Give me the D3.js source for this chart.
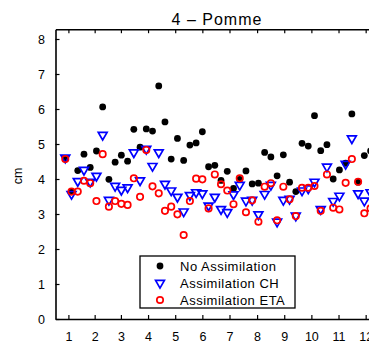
<!DOCTYPE html>
<html><head><meta charset="utf-8">
<script src="https://cdn.jsdelivr.net/npm/d3@7"></script>
<style>
html,body{margin:0;padding:0;background:#fff;}
svg{display:block;font-family:"Liberation Sans",Arial,Helvetica,sans-serif;}
</style></head>
<body>
<script>
// ---- data ----
const title = "4 \u2013 Pomme";
const yLabel = "cm";
const monthLabels = ["1","2","3","4","5","6","7","8","9","10","11","12"];
const monthMidDays = [15.5,45,74.5,105,135.5,166,196.5,227.5,258,288.5,319,349.5];
const yTicks = [0,1,2,3,4,5,6,7,8];
const seriesNames = ["No Assimilation","Assimilation CH","Assimilation ETA"];
const days = [12,19,26,33,40,47,54,61,68,75,82,89,96,103,110,117,124,131,138,145,152,159,166,173,180,187,194,201,208,215,222,229,236,243,250,257,264,271,278,285,292,299,306,313,320,327,334,341,348,355];
const noAssim = [4.57,3.64,4.24,4.71,4.33,4.80,6.06,3.99,4.48,4.68,4.51,5.42,4.91,5.43,5.37,6.66,5.63,4.57,5.16,4.53,4.97,5.03,5.35,4.35,4.39,3.96,4.22,3.73,3.99,4.23,3.86,3.88,4.76,4.63,4.09,4.69,3.91,3.64,5.02,4.94,5.81,4.81,4.98,4.00,4.26,4.45,5.86,3.91,4.67,4.80];
const assimCH = [4.61,3.57,3.94,4.26,3.92,4.09,5.26,3.40,3.80,3.69,3.76,4.76,3.96,4.86,4.37,4.76,3.86,3.67,3.49,3.07,3.54,3.62,3.59,3.24,3.49,3.14,3.05,3.56,3.83,3.38,3.40,2.99,3.57,3.83,2.78,3.40,3.43,2.95,3.67,3.73,3.92,3.14,4.35,3.37,3.52,4.43,5.16,3.59,3.38,3.62];
const assimETA = [4.57,3.64,3.64,3.95,3.88,3.37,4.71,3.21,3.37,3.29,3.26,4.02,3.49,4.83,3.79,3.59,3.09,3.21,2.99,2.40,3.37,4.01,3.99,3.16,4.13,3.85,3.67,3.28,4.02,3.05,3.39,2.78,3.78,3.88,2.82,3.78,3.42,2.94,3.75,3.75,3.80,3.09,4.13,3.18,3.13,3.89,4.57,3.92,3.02,3.16];

const W = 369, H = 344;
const svg = d3.select("body").append("svg").attr("width", W).attr("height", H);

const x = d3.scaleLinear().domain([1, 367]).range([55.5, 55.5 + 366 * 0.89]);
const y = d3.scaleLinear().domain([0, 8.28]).range([319, 29.2]);

// axes
const gx = svg.append("g").attr("transform", `translate(0,${y(0)})`)
  .call(d3.axisBottom(x).tickValues(monthMidDays).tickFormat((d, i) => monthLabels[i])
    .tickSizeInner(-4).tickSizeOuter(0).tickPadding(13.5));
const gt = svg.append("g").attr("transform", `translate(0,${y.range()[1]})`)
  .call(d3.axisTop(x).tickValues(monthMidDays).tickFormat("")
    .tickSizeInner(-4).tickSizeOuter(0));
const gy = svg.append("g").attr("transform", `translate(${x.range()[0]},0)`)
  .call(d3.axisLeft(y).tickValues(yTicks).tickFormat(d3.format("d"))
    .tickSizeInner(-4).tickSizeOuter(0).tickPadding(10.5));
[gx, gt, gy].forEach(g => {
  g.select(".domain").attr("stroke", "#000").attr("stroke-width", 1.6);
  g.selectAll(".tick line").attr("stroke", "#000").attr("stroke-width", 1.2);
  g.selectAll("text").attr("font-size", 12.5).attr("fill", "#000")
    .attr("font-family", "'Liberation Sans',Arial,Helvetica,sans-serif");
});

// title and y label
svg.append("text").attr("x", 217).attr("y", 25).attr("text-anchor", "middle")
  .attr("font-size", 16).attr("letter-spacing", 1).text(title);
svg.append("text").attr("transform", "translate(22,176) rotate(-90)")
  .attr("text-anchor", "middle").attr("font-size", 12.5).text(yLabel);

// markers
const tri = d3.symbol().type(d3.symbolTriangle).size(34);
const plot = svg.append("g");
plot.selectAll("circle.na").data(days).join("circle").attr("class", "na")
  .attr("cx", d => x(d)).attr("cy", (d, i) => y(noAssim[i])).attr("r", 3.4).attr("fill", "#000");
plot.selectAll("path.ch").data(days).join("path").attr("class", "ch")
  .attr("d", tri).attr("transform", (d, i) => `translate(${x(d)},${y(assimCH[i])}) rotate(180)`)
  .attr("fill", "none").attr("stroke", "#0000ff").attr("stroke-width", 1.7);
plot.selectAll("circle.eta").data(days).join("circle").attr("class", "eta")
  .attr("cx", d => x(d)).attr("cy", (d, i) => y(assimETA[i])).attr("r", 3.2)
  .attr("fill", "none").attr("stroke", "#ff0000").attr("stroke-width", 1.7);

// legend
const lg = svg.append("g");
lg.append("rect").attr("x", 140).attr("y", 256).attr("width", 155).attr("height", 52)
  .attr("fill", "#fff").attr("stroke", "#000").attr("stroke-width", 1.3);
const ly = [266, 283, 300];
lg.append("circle").attr("cx", 160).attr("cy", ly[0]).attr("r", 3.4).attr("fill", "#000");
lg.append("path").attr("d", tri).attr("transform", `translate(160,${ly[1]}) rotate(180)`)
  .attr("fill", "none").attr("stroke", "#0000ff").attr("stroke-width", 1.7);
lg.append("circle").attr("cx", 160).attr("cy", ly[2]).attr("r", 3.2)
  .attr("fill", "none").attr("stroke", "#ff0000").attr("stroke-width", 1.7);
seriesNames.forEach((s, i) => {
  lg.append("text").attr("x", 180).attr("y", ly[i]).attr("dy", "0.36em")
    .attr("font-size", 13).attr("letter-spacing", 0.5).text(s);
});
</script>
</body></html>
